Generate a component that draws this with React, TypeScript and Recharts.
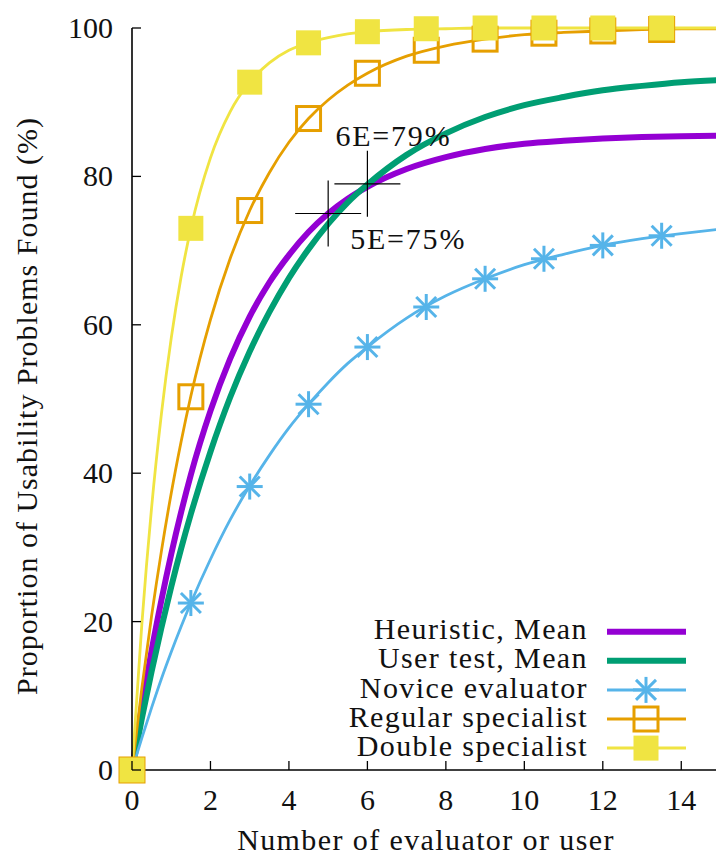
import React from "react";
import {
  ComposedChart,
  Line,
  Scatter,
  XAxis,
  YAxis,
  ReferenceDot,
} from "recharts";

// sample points along the curves (number of evaluators/users)
const xs = [0, 0.25, 0.5, 0.75, 1, 1.25, 1.5, 2, 2.5, 3, 3.5, 4, 4.5, 5, 5.5, 6, 7, 8, 9, 10, 11, 12, 13, 14, 15];

const heuristic = [0, 8.5, 16.1, 22.9, 29.1, 34.7, 39.8, 48.4, 55.4, 61.1, 65.7, 69.4, 72.5, 75.0, 77.0, 78.6, 81.0, 82.6, 83.7, 84.4, 84.8, 85.1, 85.3, 85.4, 85.5];
const userTest = [0, 6.9, 13.3, 19.2, 24.7, 29.8, 34.5, 42.9, 50.2, 56.4, 61.7, 66.3, 70.2, 73.6, 76.5, 78.9, 82.9, 85.8, 88.0, 89.6, 90.7, 91.6, 92.2, 92.7, 93.0];
const novice = [0, 4.3, 8.4, 12.3, 15.9, 19.3, 22.5, 28.4, 33.7, 38.3, 42.4, 46.1, 49.3, 52.2, 54.8, 57.0, 60.9, 63.9, 66.2, 68.1, 69.5, 70.7, 71.6, 72.3, 72.9];
const regular = [0, 11.0, 20.8, 29.5, 37.3, 44.2, 50.4, 60.7, 68.9, 75.4, 80.5, 84.6, 87.8, 90.3, 92.3, 93.9, 96.2, 97.6, 98.5, 99.1, 99.4, 99.6, 99.8, 99.9, 99.9];
const double = [0, 19.6, 35.4, 48.0, 58.2, 66.4, 73.0, 82.5, 88.7, 92.7, 95.3, 97.0, 98.0, 98.7, 99.2, 99.5, 99.8, 99.9, 100, 100, 100, 100, 100, 100, 100];

// point markers
const markX = [0, 1.5, 3, 4.5, 6, 7.5, 9, 10.5, 12, 13.5];
const noviceMarks = [null, 22.5, 38.2, 49.3, 57.0, 62.4, 66.2, 68.9, 70.7, 72.0];
const regularMarks = [0, 50.3, 75.4, 87.8, 93.9, 97.0, 98.5, 99.3, 99.6, 99.8];
const doubleMarks = [0, 73.0, 92.7, 98.0, 99.5, 99.9, 100, 100, 100, 100];

const xTicks = [0, 2, 4, 6, 8, 10, 12, 14];
const yTicks = [0, 20, 40, 60, 80, 100];

const seriesNames = ["Heuristic, Mean", "User test, Mean", "Novice evaluator", "Regular specialist", "Double specialist"];

const annoX = [6, 5];
const annoY = [79, 75];
const annoText = ["6E=79%", "5E=75%"];

const C = {
  purple: "#9400D3",
  green: "#009E73",
  blue: "#56B4E9",
  orange: "#E69F00",
  yellow: "#F0E442",
};

const rows = xs.map((x, i) => ({
  x,
  heuristic: heuristic[i],
  userTest: userTest[i],
  novice: novice[i],
  regular: regular[i],
  double: double[i],
}));

const toPts = (vals: (number | null)[]) =>
  markX.map((x, i) => ({ x, y: vals[i] })).filter((d) => d.y !== null);

const Star = ({ cx, cy, color }: any) => {
  const s = 13;
  const d = 10;
  return (
    <g stroke={color} strokeWidth={3}>
      <line x1={cx - s} x2={cx + s} y1={cy} y2={cy} />
      <line x1={cx} x2={cx} y1={cy - s} y2={cy + s} />
      <line x1={cx - d} x2={cx + d} y1={cy - d} y2={cy + d} />
      <line x1={cx - d} x2={cx + d} y1={cy + d} y2={cy - d} />
    </g>
  );
};

const OpenSquare = ({ cx, cy, color }: any) => (
  <rect x={cx - 12} y={cy - 12} width={24} height={24} fill="none" stroke={color} strokeWidth={3} />
);

const FilledSquare = ({ cx, cy, color }: any) => (
  <rect x={cx - 12.5} y={cy - 12.5} width={25} height={25} fill={color} />
);

const txt = { fontFamily: "Liberation Serif", fontSize: 30, fill: "#111" };

const BottomTick = (p: any) => (
  <g>
    <line x1={p.x} x2={p.x} y1={p.y} y2={p.y - 9} stroke="#000" strokeWidth={1.3} />
    <text x={p.x} y={p.y + 40} textAnchor="middle" {...txt}>
      {p.payload.value}
    </text>
  </g>
);
const TopTick = (p: any) => (
  <line x1={p.x} x2={p.x} y1={p.y} y2={p.y + 9} stroke="#000" strokeWidth={1.3} />
);
const LeftTick = (p: any) => (
  <g>
    <line x1={p.x} x2={p.x + 9} y1={p.y} y2={p.y} stroke="#000" strokeWidth={1.3} />
    <text x={p.x - 19} y={p.y + 10} textAnchor="end" {...txt}>
      {p.payload.value}
    </text>
  </g>
);
const RightTick = (p: any) => (
  <line x1={p.x} x2={p.x - 9} y1={p.y} y2={p.y} stroke="#000" strokeWidth={1.3} />
);

const labelOffset = [
  { dx: -32, dy: -38 },
  { dx: 22, dy: 35 },
];

const Crosshair = ({ cx, cy, idx }: any) => (
  <g>
    <line x1={cx - 33} x2={cx + 33} y1={cy} y2={cy} stroke="#000" strokeWidth={1.2} />
    <line x1={cx} x2={cx} y1={cy - 33} y2={cy + 33} stroke="#000" strokeWidth={1.2} />
    <text
      x={cx + labelOffset[idx].dx}
      y={cy + labelOffset[idx].dy}
      letterSpacing={1.8}
      {...txt}
    >
      {annoText[idx]}
    </text>
  </g>
);

const legendSamples = [
  { color: C.purple, width: 6, mark: null },
  { color: C.green, width: 6, mark: null },
  { color: C.blue, width: 3, mark: Star },
  { color: C.orange, width: 3, mark: OpenSquare },
  { color: C.yellow, width: 3, mark: FilledSquare },
];

export default function App() {
  return (
    <div
      style={{
        position: "fixed",
        left: 0,
        top: 0,
        width: 716,
        height: 856,
        overflow: "hidden",
        background: "#fff",
      }}
    >
      <ComposedChart
        width={740}
        height={856}
        data={rows}
        margin={{ top: 28, right: 19.5, bottom: 26, left: 0 }}
      >
        <XAxis
          dataKey="x"
          type="number"
          domain={[0, 15]}
          ticks={xTicks}
          interval={0}
          height={60}
          tickSize={0}
          tickMargin={0}
          tickLine={false}
          axisLine={{ stroke: "#000", strokeWidth: 1.6 }}
          tick={BottomTick}
        />
        <XAxis
          xAxisId="top"
          orientation="top"
          type="number"
          domain={[0, 15]}
          allowDataOverflow
          ticks={xTicks}
          interval={0}
          height={0}
          tickSize={0}
          tickMargin={0}
          tickLine={false}
          axisLine={{ stroke: "#000", strokeWidth: 1.6 }}
          tick={TopTick}
        />
        <YAxis
          type="number"
          domain={[0, 100]}
          ticks={yTicks}
          interval={0}
          width={132}
          tickSize={0}
          tickMargin={0}
          tickLine={false}
          axisLine={{ stroke: "#000", strokeWidth: 1.6 }}
          tick={LeftTick}
        />
        <YAxis
          yAxisId="right"
          orientation="right"
          type="number"
          domain={[0, 100]}
          allowDataOverflow
          ticks={yTicks}
          interval={0}
          width={0}
          tickSize={0}
          tickMargin={0}
          tickLine={false}
          axisLine={{ stroke: "#000", strokeWidth: 1.6 }}
          tick={RightTick}
        />

        <Line type="monotone" dataKey="heuristic" stroke={C.purple} strokeWidth={6} dot={false} isAnimationActive={false} />
        <Line type="monotone" dataKey="userTest" stroke={C.green} strokeWidth={6} dot={false} isAnimationActive={false} />
        <Line type="monotone" dataKey="novice" stroke={C.blue} strokeWidth={2.8} dot={false} isAnimationActive={false} />
        <Scatter
          data={toPts(noviceMarks)}
          dataKey="y"
          isAnimationActive={false}
          shape={(p: any) => <Star cx={p.cx} cy={p.cy} color={C.blue} />}
        />
        <Line type="monotone" dataKey="regular" stroke={C.orange} strokeWidth={2.8} dot={false} isAnimationActive={false} />
        <Scatter
          data={toPts(regularMarks)}
          dataKey="y"
          isAnimationActive={false}
          shape={(p: any) => <OpenSquare cx={p.cx} cy={p.cy} color={C.orange} />}
        />
        <Line type="monotone" dataKey="double" stroke={C.yellow} strokeWidth={2.8} dot={false} isAnimationActive={false} />
        <Scatter
          data={toPts(doubleMarks)}
          dataKey="y"
          isAnimationActive={false}
          shape={(p: any) => <FilledSquare cx={p.cx} cy={p.cy} color={C.yellow} />}
        />

        {annoX.map((x, i) => (
          <ReferenceDot
            key={i}
            x={x}
            y={annoY[i]}
            r={0}
            shape={(p: any) => <Crosshair cx={p.cx} cy={p.cy} idx={i} />}
          />
        ))}
      </ComposedChart>

      {/* axis titles and key */}
      <svg
        width={716}
        height={856}
        style={{ position: "absolute", left: 0, top: 0, pointerEvents: "none" }}
      >
        <text x={426} y={850} textAnchor="middle" letterSpacing={1.4} {...txt}>
          Number of evaluator or user
        </text>
        <text
          transform="translate(36.5 406) rotate(-90)"
          textAnchor="middle"
          letterSpacing={1.0}
          {...txt}
        >
          Proportion of Usability Problems Found (%)
        </text>
        {seriesNames.map((name, i) => {
          const cy = 631.7 + 29.1 * i;
          const s = legendSamples[i];
          const Mark = s.mark as any;
          return (
            <g key={name}>
              <text x={588} y={cy + 7.6} textAnchor="end" letterSpacing={1.4} {...txt}>
                {name}
              </text>
              <line x1={607} x2={686} y1={cy} y2={cy} stroke={s.color} strokeWidth={s.width} />
              {Mark && <Mark cx={646} cy={cy} color={s.color} />}
            </g>
          );
        })}
      </svg>
    </div>
  );
}
